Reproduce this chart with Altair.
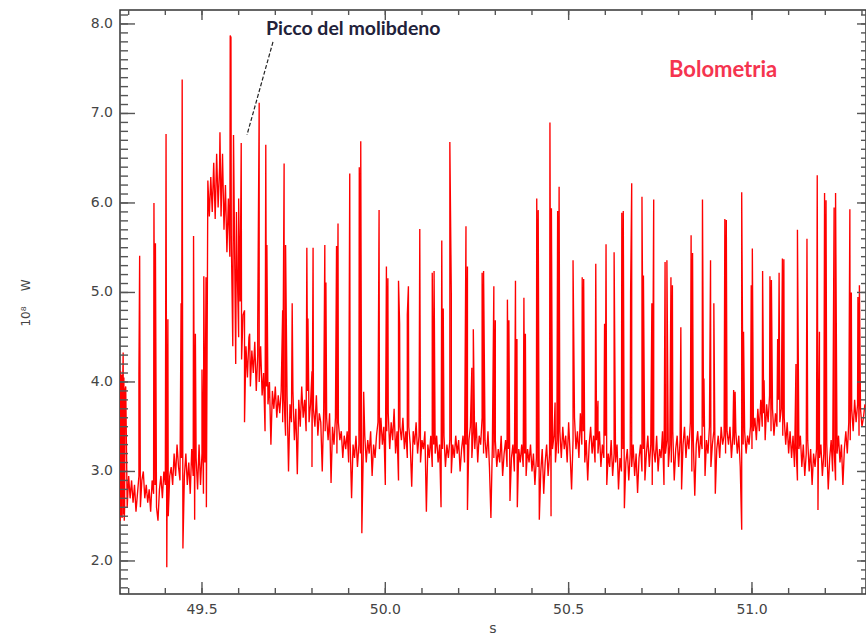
import altair as alt
import pandas as pd

# Bolometer power trace, sampled every 4 ms, plus the fast radiation spikes
T0 = 49.276
DT = 0.004

baseline = [
    4.10, 2.50, 4.05, 2.45, 3.95, 2.60, 2.95, 2.70, 2.90, 2.65, 2.85, 2.55, 2.75, 2.95, 2.60, 2.90, 3.00, 2.70, 2.85, 2.65, 2.80, 2.55, 2.90, 2.75, 2.85,
    2.60, 2.45, 2.80, 2.95, 2.70, 3.00, 2.85, 1.93, 2.50, 2.95, 3.05, 2.85, 3.20, 2.95, 3.30, 3.05, 2.90, 3.15, 2.14, 2.95, 3.20, 2.85, 3.10, 2.75, 3.25,
    2.95, 2.46, 3.15, 2.80, 3.30, 2.85, 3.20, 2.75, 3.10, 2.60, 6.25, 5.85, 6.29, 5.90, 6.45, 5.82, 6.55, 5.95, 6.40, 5.85, 6.55, 5.70, 6.20, 5.45, 6.05,
    5.40, 5.60, 4.40, 5.90, 4.20, 5.30, 4.50, 4.90, 4.25, 4.75, 3.55, 4.40, 4.05, 4.50, 3.95, 4.35, 4.10, 4.45, 3.90, 4.30, 4.00, 4.40, 3.85, 4.10, 3.45,
    3.95, 3.75, 4.00, 3.30, 3.90, 3.70, 3.95, 3.60, 3.85, 3.65, 3.90, 3.55, 3.80, 3.40, 3.85, 3.00, 3.75, 3.55, 3.90, 3.35, 3.70, 2.97, 3.80, 3.50, 3.95,
    3.60, 3.80, 3.45, 3.90, 3.55, 3.75, 3.05, 3.70, 3.50, 3.85, 3.40, 3.65, 3.55, 3.00, 3.70, 3.45, 3.60, 3.35, 3.65, 2.87, 3.50, 3.30, 3.60, 3.20, 3.55,
    3.35, 3.45, 3.15, 3.40, 3.25, 3.45, 3.10, 3.35, 2.70, 3.30, 3.15, 3.40, 3.05, 3.30, 3.20, 2.31, 3.25, 3.40, 3.10, 3.35, 3.20, 3.45, 2.95, 3.30, 3.15,
    3.40, 3.55, 3.25, 3.60, 3.30, 3.50, 2.85, 3.45, 3.65, 3.25, 3.55, 3.35, 3.70, 3.20, 3.45, 2.90, 3.50, 3.35, 3.60, 3.25, 3.45, 3.15, 3.50, 3.30, 2.83,
    3.45, 3.30, 3.55, 3.20, 3.40, 3.10, 3.35, 3.25, 3.45, 2.55, 3.30, 3.15, 3.40, 3.05, 3.30, 3.20, 3.40, 3.10, 3.30, 2.60, 3.25, 3.40, 3.05, 3.30, 3.15,
    3.35, 2.98, 3.30, 3.15, 3.40, 3.20, 3.35, 3.00, 3.25, 3.40, 3.10, 3.30, 2.57, 3.35, 3.50, 3.15, 3.45, 3.25, 3.55, 3.10, 3.40, 3.30, 3.60, 3.20, 3.35,
    3.15, 3.45, 3.05, 2.48, 3.30, 3.15, 3.35, 3.05, 3.25, 3.10, 3.40, 2.95, 3.20, 3.35, 3.05, 3.25, 2.67, 3.15, 3.30, 3.00, 3.20, 2.60, 3.25, 3.10, 3.30,
    3.05, 3.20, 2.95, 3.25, 3.10, 3.30, 3.00, 3.20, 2.85, 3.15, 3.05, 2.46, 3.00, 3.25, 2.75, 3.10, 3.30, 2.95, 3.20, 2.50, 3.25, 3.40, 3.10, 3.35, 3.20,
    3.45, 3.15, 3.50, 3.25, 3.40, 3.10, 3.55, 3.20, 2.80, 3.35, 3.60, 3.25, 3.45, 3.15, 3.65, 3.30, 3.45, 3.10, 3.35, 2.90, 3.30, 3.50, 3.20, 3.40, 3.10,
    3.35, 3.20, 3.45, 3.05, 3.30, 3.15, 3.40, 2.85, 3.20, 3.05, 3.35, 2.95, 3.20, 3.10, 3.30, 2.80, 3.15, 3.00, 3.25, 2.59, 3.10, 3.25, 2.90, 3.20, 3.05,
    3.30, 2.95, 3.20, 2.76, 3.15, 3.30, 3.00, 3.25, 2.90, 3.20, 3.40, 3.05, 3.30, 2.85, 3.25, 3.10, 3.40, 3.00, 3.25, 3.15, 3.45, 2.85, 3.20, 3.35, 3.05,
    3.30, 3.10, 3.45, 2.90, 3.25, 3.40, 3.05, 3.35, 2.80, 3.30, 3.50, 3.15, 3.40, 3.25, 3.55, 3.00, 3.35, 2.73, 3.30, 3.45, 3.15, 3.40, 3.25, 3.50, 2.95,
    3.35, 3.20, 3.50, 3.05, 3.30, 3.45, 2.75, 3.25, 3.40, 3.15, 3.50, 3.30, 3.40, 3.20, 3.45, 3.30, 3.50, 3.15, 3.40, 3.30, 3.45, 3.20, 3.40, 3.05, 2.35,
    3.30, 3.45, 3.20, 3.40, 3.30, 3.50, 3.25, 3.45, 3.60, 3.35, 3.70, 3.45, 3.80, 3.50, 3.65, 3.35, 3.75, 3.55, 3.85, 3.45, 3.70, 3.40, 3.65, 3.50, 3.80,
    3.55, 3.70, 3.40, 3.60, 3.30, 3.55, 3.20, 3.45, 3.15, 3.40, 3.05, 3.30, 2.90, 3.25, 3.40, 3.05, 3.30, 2.95, 3.20, 3.35, 3.00, 3.25, 2.85, 3.20, 3.05,
    3.25, 2.57, 3.15, 3.30, 2.95, 3.20, 3.05, 3.30, 2.80, 3.15, 3.35, 3.00, 3.25, 2.90, 3.20, 3.40, 3.10, 3.30, 2.85, 3.25, 3.45, 3.20, 3.55, 3.35, 3.70,
    3.45, 3.80, 3.55, 3.75, 3.40, 3.70, 3.50, 3.60, 3.75,
]

spike_t = [
    49.277, 49.278, 49.279, 49.281, 49.282, 49.283, 49.285, 49.286, 49.287, 49.289,
    49.290, 49.328, 49.330, 49.369, 49.373, 49.402, 49.407, 49.443, 49.446, 49.477,
    49.482, 49.500, 49.505, 49.511, 49.549, 49.577, 49.579, 49.586, 49.594, 49.600,
    49.607, 49.616, 49.630, 49.652, 49.656, 49.674, 49.677, 49.720, 49.724, 49.728,
    49.746, 49.786, 49.789, 49.800, 49.803, 49.835, 49.838, 49.867, 49.871, 49.903,
    49.929, 49.933, 49.941, 49.983, 50.003, 50.007, 50.036, 50.039, 50.060, 50.063,
    50.094, 50.128, 50.133, 50.154, 50.158, 50.176, 50.180, 50.220, 50.224, 50.236,
    50.240, 50.264, 50.268, 50.296, 50.300, 50.333, 50.337, 50.355, 50.359, 50.378,
    50.382, 50.413, 50.417, 50.449, 50.453, 50.463, 50.470, 50.474, 50.512, 50.537,
    50.541, 50.574, 50.580, 50.598, 50.602, 50.624, 50.645, 50.649, 50.669, 50.672,
    50.700, 50.704, 50.727, 50.732, 50.763, 50.768, 50.779, 50.783, 50.806, 50.834,
    50.838, 50.865, 50.869, 50.887, 50.896, 50.926, 50.930, 50.950, 50.954, 50.972,
    50.977, 50.998, 51.001, 51.029, 51.033, 51.049, 51.053, 51.070, 51.074, 51.083,
    51.087, 51.120, 51.124, 51.150, 51.178, 51.184, 51.198, 51.202, 51.224, 51.228,
    51.267, 51.271, 51.289, 51.293,
]
spike_v = [
    2.45, 4.12, 2.55, 4.08, 2.48, 4.00, 4.33, 2.52, 4.05, 2.60,
    3.90, 4.10, 5.41, 6.00, 5.55, 6.77, 4.70, 4.88, 7.38, 5.63,
    4.54, 4.14, 5.18, 5.17, 6.79, 7.87, 7.85, 6.76, 5.90, 6.05,
    6.67, 4.80, 4.54, 4.63, 7.12, 6.65, 5.53, 4.80, 6.44, 5.53,
    4.88, 5.50, 4.71, 4.12, 5.50, 5.53, 5.11, 5.52, 5.77, 6.33,
    6.40, 6.69, 3.89, 5.92, 5.29, 5.16, 5.13, 4.65, 4.75, 5.07,
    5.71, 5.22, 5.24, 5.58, 4.82, 6.68, 4.99, 5.74, 5.29, 4.16,
    4.59, 5.22, 5.24, 5.07, 4.69, 4.92, 4.69, 5.13, 4.48, 4.94,
    4.54, 6.05, 5.92, 6.90, 5.94, 3.77, 5.91, 6.18, 5.36, 5.17,
    5.15, 5.32, 3.79, 4.65, 5.54, 5.45, 5.89, 5.91, 5.00, 6.22,
    6.07, 5.19, 4.88, 6.04, 5.34, 5.36, 5.17, 5.08, 4.61, 5.64,
    5.44, 6.04, 4.04, 5.36, 4.88, 5.82, 5.81, 3.91, 3.89, 6.12,
    4.56, 5.08, 5.49, 5.24, 4.02, 5.18, 5.14, 4.48, 5.22, 5.38,
    5.37, 4.20, 5.70, 5.60, 6.31, 4.56, 6.11, 6.03, 5.95, 6.11,
    5.93, 5.00, 4.95, 5.08,
]

x_major = [49.5, 50.0, 50.5, 51.0]
x_minor = [round(49.3 + 0.1 * k, 1) for k in range(21)]
y_major = [2.0, 3.0, 4.0, 5.0, 6.0, 7.0, 8.0]
y_minor = [round(1.7 + 0.1 * k, 1) for k in range(65)]
x_title = ["s"]
y_title = ["10\u2078\u00a0\u00a0\u00a0\u00a0W"]

# annotation anchors, in data units (s, 10^8 W)
note_label = ["Picco del molibdeno"]
note_t = [49.6745]
note_p = [7.877]
pointer_t = [49.6936, 49.6227]
pointer_p = [7.799, 6.760]
tag_label = ["Bolometria"]
tag_t = [50.7736]
tag_p = [7.408]

rows = [(T0 + DT * i, v) for i, v in enumerate(baseline)] + list(zip(spike_t, spike_v))
rows.sort(key=lambda r: r[0])
df = pd.DataFrame(rows, columns=["t", "p"])
df["k"] = range(len(df))

W, H = 746, 584
X_LO, X_HI = 49.2764, 51.311
Y_LO, Y_HI = 1.631, 8.156
xs = alt.Scale(domain=[X_LO, X_HI], nice=False, zero=False)
ys = alt.Scale(domain=[Y_LO, Y_HI], nice=False, zero=False)
PX_X = (X_HI - X_LO) / W   # seconds per pixel
PX_Y = (Y_HI - Y_LO) / H   # 10^8 W per pixel

TICK = "#555555"
LABEL = "#444444"
FONT = "DejaVu Sans"


def X(field):
    return alt.X(field, scale=xs, axis=None)


def Y(field):
    return alt.Y(field, scale=ys, axis=None)


trace = alt.Chart(df).mark_line(color="#ff0000", strokeWidth=1.35, clip=True).encode(
    x=X("t:Q"), y=Y("p:Q"), order="k:Q",
)


# frame ticks pointing into the plot, as segments in data space
def x_ticks(values, edge, length_px):
    inward = length_px * PX_Y if edge == Y_LO else -length_px * PX_Y
    frame = pd.DataFrame({
        "t": values, "t2": values,
        "p": [edge] * len(values), "p2": [edge + inward] * len(values),
    })
    return alt.Chart(frame).mark_rule(color=TICK, strokeWidth=1.4).encode(
        x=X("t:Q"), x2="t2:Q", y=Y("p:Q"), y2="p2:Q",
    )


def y_ticks(values, edge, length_px):
    inward = length_px * PX_X if edge == X_LO else -length_px * PX_X
    frame = pd.DataFrame({
        "t": [edge] * len(values), "t2": [edge + inward] * len(values),
        "p": values, "p2": values,
    })
    return alt.Chart(frame).mark_rule(color=TICK, strokeWidth=1.4).encode(
        x=X("t:Q"), x2="t2:Q", y=Y("p:Q"), y2="p2:Q",
    )


tick_marks = [
    x_ticks(x_minor, Y_LO, 6), x_ticks(x_major, Y_LO, 12),
    x_ticks(x_minor, Y_HI, 5), x_ticks(x_major, Y_HI, 10),
    y_ticks(y_minor, X_LO, 8), y_ticks(y_major, X_LO, 15),
    y_ticks(y_minor, X_HI, 5), y_ticks(y_major, X_HI, 9),
]

x_labels = alt.Chart(pd.DataFrame({"t": x_major})).mark_text(
    align="center", baseline="top", font=FONT, fontSize=14, color=LABEL,
).encode(x=X("t:Q"), y=alt.value(H + 9), text=alt.Text("t:Q", format=".1f"))

y_labels = alt.Chart(pd.DataFrame({"p": y_major})).mark_text(
    align="right", baseline="middle", font=FONT, fontSize=14, color=LABEL,
).encode(y=Y("p:Q"), x=alt.value(-7), text=alt.Text("p:Q", format=".1f"))

x_name = alt.Chart(pd.DataFrame({"label": x_title})).mark_text(
    align="center", baseline="alphabetic", font=FONT, fontSize=14, color=LABEL,
).encode(x=alt.value(W / 2), y=alt.value(H + 39), text="label:N")

y_name = alt.Chart(pd.DataFrame({"label": y_title})).mark_text(
    align="center", baseline="alphabetic", font=FONT, fontSize=12, color=LABEL,
    angle=270,
).encode(x=alt.value(-90), y=alt.value(293), text="label:N")

note = alt.Chart(pd.DataFrame({"t": note_t, "p": note_p, "label": note_label})).mark_text(
    align="left", baseline="alphabetic", font="Lato", fontWeight="bold",
    fontSize=19.5, color="#22223a",
).encode(x=X("t:Q"), y=Y("p:Q"), text="label:N")

pointer = alt.Chart(pd.DataFrame({
    "t": [pointer_t[0]], "t2": [pointer_t[1]],
    "p": [pointer_p[0]], "p2": [pointer_p[1]],
})).mark_rule(color="#222222", strokeWidth=1.2, strokeDash=[4, 2]).encode(
    x=X("t:Q"), x2="t2:Q", y=Y("p:Q"), y2="p2:Q",
)

tag = alt.Chart(pd.DataFrame({"t": tag_t, "p": tag_p, "label": tag_label})).mark_text(
    align="left", baseline="alphabetic", font="Lato", fontWeight="bold",
    fontSize=22, color="#f5344f",
).encode(x=X("t:Q"), y=Y("p:Q"), text="label:N")

chart = alt.layer(
    trace, x_labels, y_labels, x_name, y_name, pointer, note, tag, *tick_marks,
).properties(
    width=W, height=H,
    autosize=alt.AutoSizeParams(type="none"),
    padding={"left": 120, "top": 10, "right": 0, "bottom": 39},
    background="white",
).configure_view(
    stroke="#333333", strokeWidth=1.5,
)

chart.save("out.html", embed_options={"renderer": "svg", "actions": False})
